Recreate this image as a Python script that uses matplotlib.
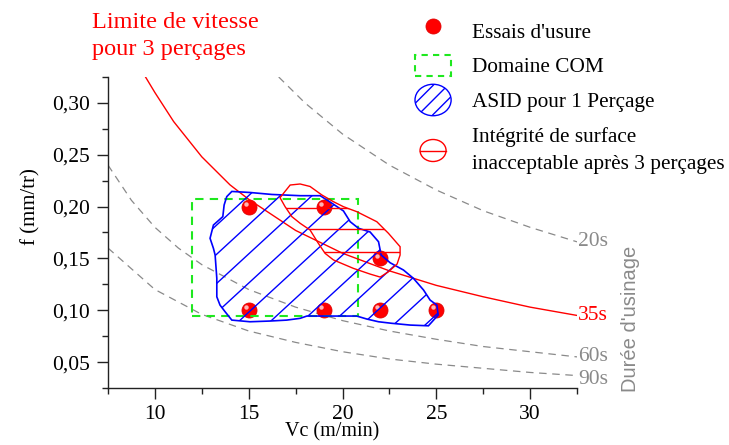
import numpy as np
import matplotlib
matplotlib.use('Agg')
import matplotlib.pyplot as plt
from matplotlib.patches import Polygon, Rectangle, Ellipse
from matplotlib.lines import Line2D
from matplotlib.legend_handler import HandlerPatch
from matplotlib.ticker import MultipleLocator, FuncFormatter
from matplotlib.transforms import offset_copy

plt.rcParams['font.family'] = ['Liberation Serif', 'DejaVu Serif']

# essais d'usure
essais_vc = [15, 19, 15, 19, 22, 25, 22]
essais_f = [0.20, 0.20, 0.10, 0.10, 0.10, 0.10, 0.15]

# courbes iso-durée
t20_vc = [16.6, 18, 20, 22.5, 25, 27.5, 30, 32.5]
t20_f = [0.325, 0.300, 0.270, 0.240, 0.216, 0.196, 0.180, 0.166]
t35_vc = [9.5, 10, 11, 12.5, 14, 15, 17.5, 20, 22.5, 25, 27.5, 30, 32.5]
t35_f = [0.325, 0.310, 0.282, 0.248, 0.221, 0.207, 0.177, 0.155, 0.138, 0.124, 0.113, 0.103, 0.095]
t60_vc = [7.5, 8.75, 10, 11.25, 12.5, 15, 17.5, 20, 22.5, 25, 27.5, 30, 32.5]
t60_f = [0.240, 0.206, 0.180, 0.160, 0.144, 0.120, 0.103, 0.090, 0.080, 0.072, 0.065, 0.060, 0.055]
t90_vc = [7.5, 10, 12.5, 15, 17.5, 20, 22.5, 25, 27.5, 30, 32.5]
t90_f = [0.160, 0.120, 0.096, 0.080, 0.069, 0.060, 0.053, 0.048, 0.044, 0.040, 0.037]
durees = ['20s', '35s', '60s', '90s']

# domaine COM
com_vc = [12.0, 20.8]
com_f = [0.094, 0.207]

# ASID pour 1 perçage (contour)
asid_vc = [14.10, 15.07, 16.23, 17.74, 18.81, 19.34, 20.05, 20.41, 20.85, 21.47, 21.92,
           22.06, 22.54, 23.25, 23.78, 24.32, 24.67, 25.03, 25.10, 24.58, 23.61, 22.63,
           21.92, 21.30, 20.76, 18.81, 18.10, 17.74, 17.03, 16.14, 15.07, 14.10, 13.74,
           13.47, 13.30, 13.30, 13.21, 13.12, 12.94, 13.12, 13.62, 13.69, 13.83]
asid_f = [0.2146, 0.2136, 0.2117, 0.2105, 0.2105, 0.2044, 0.1958, 0.1854, 0.1791, 0.1755, 0.1661,
          0.1533, 0.1458, 0.1388, 0.1308, 0.1195, 0.1098, 0.1050, 0.0954, 0.0850, 0.0857, 0.0874,
          0.0889, 0.0915, 0.0944, 0.0944, 0.0944, 0.0922, 0.0905, 0.0896, 0.0889, 0.0905, 0.0986,
          0.1050, 0.1130, 0.1308, 0.1533, 0.1597, 0.1694, 0.1822, 0.1903, 0.2015, 0.2096]

# intégrité de surface inacceptable après 3 perçages (contour)
integ_vc = [16.67, 17.21, 17.74, 18.27, 18.90, 19.52, 20.05, 20.76, 21.83, 22.45, 23.07, 23.07,
            22.91, 22.43, 22.01, 21.47, 20.58, 19.52, 19.07, 18.70, 18.27, 17.74, 17.30, 16.94]
integ_f = [0.2086, 0.2208, 0.2218, 0.2194, 0.2112, 0.2047, 0.1999, 0.1951, 0.1854, 0.1742, 0.1613, 0.1533,
           0.1446, 0.1369, 0.1320, 0.1349, 0.1404, 0.1485, 0.1549, 0.1649, 0.1774, 0.1839, 0.1903, 0.1999]

gris = '#8a8a8a'

fig = plt.figure(figsize=(7.29, 4.45), dpi=100)
ax = fig.add_axes([108/729, 1-388/445, 469/729, 311/445])

# essais (boules rouges)
ax.plot(essais_vc, essais_f, 'o', ms=10.8, mfc='#ff0000', mec='#e00000', mew=0.6, zorder=1.5)
hl = offset_copy(ax.transData, fig=fig, x=-2.2, y=2.0, units='points')
ax.plot(essais_vc, essais_f, 'o', ms=3.2, mfc='#ffb4b4', mec='none', transform=hl, zorder=1.6)

# iso-durée
for vc, f in [(t20_vc, t20_f), (t60_vc, t60_f), (t90_vc, t90_f)]:
    ax.plot(vc, f, color=gris, lw=0.9, dashes=(6, 4.5), zorder=1)
ax.plot(t35_vc, t35_f, color='#ff0000', lw=1.0, zorder=3)

ends = [t20_f[-1], t35_f[-1], t60_f[-1], t90_f[-1] - 0.004]
cols = [gris, '#ff0000', gris, gris]
for lab, yv, c in zip(durees, ends, cols):
    ax.text(32.55, yv, lab, color=c, fontsize=15.5, ha='left', va='center', clip_on=False)

# domaine COM
com = Rectangle((com_vc[0], com_f[0]), com_vc[1]-com_vc[0], com_f[1]-com_f[0],
                fill=False, edgecolor='#1ee81e', lw=1.5, ls=(0, (4, 3)), zorder=2)
ax.add_patch(com)

# ASID
asid = Polygon(np.column_stack([asid_vc, asid_f]), closed=True, fill=False,
               edgecolor='#0000ff', lw=1.2, zorder=3)
ax.add_patch(asid)
xx = np.array([8.0, 32.0])
for c0 in np.arange(14.45 - 6*1.69, 30, 1.69):
    ln, = ax.plot(xx, 0.0889 + 0.01665*(xx - c0), color='#0000ff', lw=1.0, zorder=3)
    ln.set_clip_path(asid)

# intégrité
integ = Polygon(np.column_stack([integ_vc, integ_f]), closed=True, fill=False,
                edgecolor='#ff0000', lw=1.0, zorder=3)
ax.add_patch(integ)
for yh in [0.1991, 0.1779, 0.1565]:
    ln = ax.axhline(yh, color='#ff0000', lw=1.0, zorder=3)
    ln.set_clip_path(integ)

# axes
ax.set_xlim(7.5, 32.5)
ax.set_ylim(0.025, 0.325)
ax.xaxis.set_major_locator(MultipleLocator(5))
ax.xaxis.set_minor_locator(MultipleLocator(2.5))
ax.yaxis.set_major_locator(MultipleLocator(0.05))
ax.yaxis.set_minor_locator(MultipleLocator(0.025))
ax.yaxis.set_major_formatter(FuncFormatter(lambda v, p: f"{v:.2f}".replace('.', ',')))
ax.spines['top'].set_visible(False)
ax.spines['right'].set_visible(False)
for s in ['left', 'bottom']:
    ax.spines[s].set_linewidth(1.0)
    ax.spines[s].set_color('#222222')
ax.tick_params(which='major', length=8, width=1.0, direction='out', labelsize=15.5, color='#222222')
ax.tick_params(which='minor', length=4.5, width=1.0, direction='out', color='#222222')
ax.tick_params(axis='x', which='major', pad=4)
ax.tick_params(axis='y', which='major', pad=5)
ax.set_xlabel('Vc (m/min)', fontsize=14.5)
ax.set_ylabel('f (mm/tr)', fontsize=15)
ax.xaxis.set_label_coords((332.5-108)/469, -(422.5-388)/311)
ax.yaxis.set_label_coords((40-108)/469, (388-207)/311)

fig.text(92/729, 1-12/445, 'Limite de vitesse\npour 3 perçages', color='#ff0000',
         fontsize=17.5, ha='left', va='top', linespacing=1.35)
fig.text(630.5/729, 1-319/445, "Durée d'usinage", color=gris, fontsize=14.5,
         family='Liberation Sans', rotation=90, ha='center', va='center')


# legende
class HandlerEllipse(HandlerPatch):
    def __init__(self, wf=1.0, hf=1.0, bar=False, hatch_lines=0):
        super().__init__()
        self.wf, self.hf, self.bar, self.nh = wf, hf, bar, hatch_lines

    def create_artists(self, legend, orig_handle, xdescent, ydescent, width, height, fontsize, trans):
        cx, cy = 0.5*width - xdescent, 0.5*height - ydescent
        w, h = width*self.wf, height*self.hf
        e = Ellipse((cx, cy), w, h)
        self.update_prop(e, orig_handle, legend)
        e.set_transform(trans)
        arts = [e]
        col = orig_handle.get_edgecolor()
        if self.bar:
            arts.append(Line2D([cx - w/2, cx + w/2], [cy, cy], color=col, lw=1.0, transform=trans))
        for k in range(self.nh):
            dx = (k - (self.nh - 1)/2) * 10.5
            ln = Line2D([cx + dx - h, cx + dx + h], [cy - h, cy + h], color=col, lw=1.0, transform=trans)
            ln.set_clip_path(e)
            arts.append(ln)
        return arts


def rect_patch(legend, orig_handle, xdescent, ydescent, width, height, fontsize):
    hh = height*0.66
    return Rectangle((-xdescent, -ydescent + (height - hh)/2), width, hh)


h_essai = Line2D([], [], marker='o', ls='none', ms=10.8, mfc='#ff0000', mec='#e00000', mew=0.6)
h_com = Rectangle((0, 0), 1, 1, fill=False, edgecolor='#1ee81e', lw=1.5, ls=(0, (3, 2.5)))
h_asid = Ellipse((0, 0), 1, 1, fill=False, edgecolor='#0000ff', lw=1.0)
h_integ = Ellipse((0, 0), 1, 1, fill=False, edgecolor='#ff0000', lw=1.0)

leg_kw = dict(loc='upper left', bbox_transform=fig.transFigure, frameon=False, fontsize=15.3,
              borderpad=0, borderaxespad=0, handlelength=1.7, handleheight=1.9,
              handletextpad=1.0, labelspacing=0.15)
leg1 = ax.legend([h_essai, h_com, h_asid],
                 ["Essais d'usure", 'Domaine COM', 'ASID pour 1 Perçage'],
                 handler_map={h_com: HandlerPatch(patch_func=rect_patch),
                              h_asid: HandlerEllipse(hatch_lines=3)},
                 bbox_to_anchor=(415/729, 1-15/445), **leg_kw)
ax.add_artist(leg1)
leg2 = ax.legend([h_integ], ['Intégrité de surface\ninacceptable après 3 perçages'],
                 handler_map={h_integ: HandlerEllipse(wf=0.72, hf=0.7, bar=True)},
                 bbox_to_anchor=(415/729, 1-127/445), **leg_kw)
leg2.get_texts()[0].set_linespacing(1.55)

fig.savefig('out.png', dpi=100)
